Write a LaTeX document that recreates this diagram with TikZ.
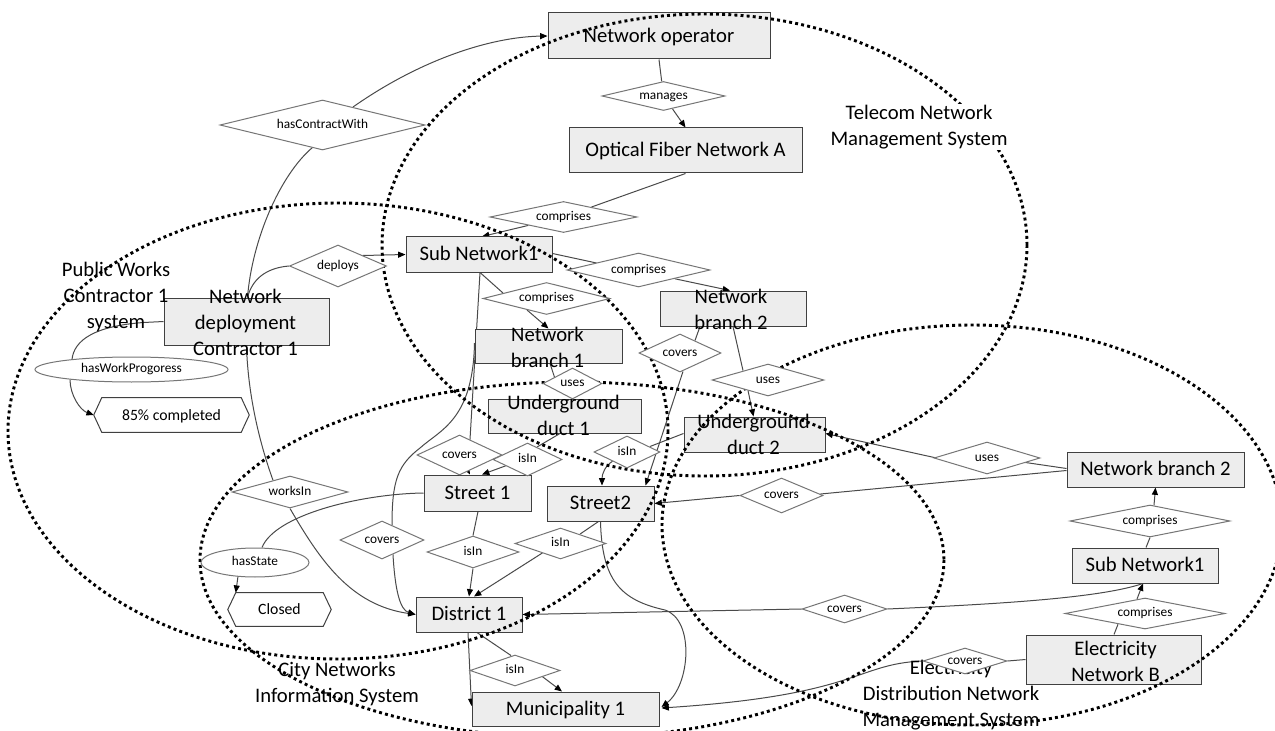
\documentclass[tikz,border=0pt]{standalone}
\usepackage{fontspec}
\setmainfont{Carlito}
\usetikzlibrary{shapes.geometric,arrows.meta,calc}
\definecolor{boxfill}{HTML}{EDEDED}
\definecolor{boxline}{HTML}{404040}
\definecolor{dialine}{HTML}{767676}
\definecolor{lncol}{HTML}{4A4A4A}
\pgfdeclarelayer{bg}
\pgfdeclarelayer{conn}
\pgfdeclarelayer{boxl}
\pgfdeclarelayer{zonel}
\pgfsetlayers{bg,conn,boxl,zonel,main}
\begin{document}
\begin{tikzpicture}[x=0.75pt,y=-0.75pt,
  box/.style={draw=boxline, fill=boxfill, line width=0.75pt, inner sep=0pt},
  sz/.style 2 args={minimum width=#1*0.75pt, minimum height=#2*0.75pt},
  one/.style={text height=12.5pt, text depth=3pt},
  dia/.style={diamond, shape aspect=3, draw=dialine, fill=white, line width=0.75pt, inner sep=0pt, font=\fontsize{10}{12}\selectfont, text height=6.6pt, text depth=2pt},
  ell/.style={ellipse, draw=dialine, fill=white, line width=0.75pt, inner sep=0pt, font=\fontsize{10}{12}\selectfont, text height=7pt, text depth=2pt},
  lbl/.style={font=\fontsize{15.5}{19.5}\selectfont, align=center, inner sep=0pt},
  hexn/.style={inner sep=0pt, font=\fontsize{11.8}{14}\selectfont, text height=10pt, text depth=2.5pt},
  hexl/.style={draw=boxline, fill=white, line width=0.75pt},
  ln/.style={draw=lncol, line width=0.75pt},
  ar/.style={ln, -{Triangle[length=5.5pt,width=4.5pt,color=black]}},
  zone/.style={draw=black, line width=2.2pt, dash pattern=on 2.2pt off 2.4pt},
]
\begin{pgfonlayer}{bg}
\fill[white] (0,0) rectangle (1275,731);
\end{pgfonlayer}
\useasboundingbox (0,0) rectangle (1275,731);

% ---------- boxes ----------
\begin{pgfonlayer}{boxl}
\node[box,sz={222}{46},lbl,one] (no) at (659,36) {Network operator};
\node[box,sz={233}{45},lbl,one] (ofn) at (685.5,150.5) {Optical Fiber Network A};
\node[box,sz={146}{35},lbl,one] (sn1) at (479,254.5) {Sub Network1};
\node[box,sz={165}{47}] (ndc) at (246.5,321.5) {};
\node[lbl] (ndct) at (245.5,322.5) {Network\\deployment\\Contractor 1};
\node[box,sz={146}{35}] (nb2) at (733,308.5) {};
\node[lbl] (nb2t) at (731,309) {Network\\branch 2};
\node[box,sz={147}{34}] (nb1) at (548.5,346) {};
\node[lbl] (nb1t) at (547.5,347) {Network\\branch 1};
\node[box,sz={153}{34}] (ud1) at (564.5,416) {};
\node[lbl] (ud1t) at (563.5,415.5) {Underground\\duct 1};
\node[box,sz={141}{35}] (ud2) at (754.5,434.5) {};
\node[lbl] (ud2t) at (753.5,434.5) {Underground\\duct 2};
\node[box,sz={107}{36},lbl,one] (st1) at (477.5,493) {Street 1};
\node[box,sz={107}{35},lbl,one] (st2) at (600.5,503.5) {Street2};
\node[box,sz={106}{35},lbl,one] (d1) at (469,614.5) {District 1};
\node[box,sz={187}{34},lbl,one] (m1) at (565.5,709) {Municipality 1};
\node[box,sz={177}{35},lbl,one] (nb2r) at (1155.5,469.5) {Network branch 2};
\node[box,sz={146}{35},lbl,one] (sn1r) at (1145,565.5) {Sub Network1};
\node[box,sz={175}{49}] (enb) at (1113.5,659.5) {};
\node[lbl] (enbt) at (1115.5,661) {Electricity\\Network B};
\end{pgfonlayer}

% ---------- zones ----------
\begin{pgfonlayer}{zonel}
\draw[zone] (704.5,245) ellipse [x radius=322.5, y radius=231];
\draw[zone] (338,431) ellipse [x radius=330, y radius=228];
\draw[zone] (572,560) ellipse [x radius=372, y radius=178];
\draw[zone] (972,525) ellipse [x radius=310, y radius=200];
\end{pgfonlayer}

% ---------- zone labels ----------
\node[lbl,fill=white,inner sep=1pt] (tel) at (919,127) {Telecom Network\\Management System};
\node[lbl] (pwc) at (116,297) {Public Works\\Contractor 1\\system};
\node[lbl] (city) at (337,684) {City Networks\\Information System};
\node[lbl] (elec) at (951,695) {Electricity\\Distribution Network\\Management System};

% ---------- relations ----------
\node[dia,sz={123}{29}] (man) at (663.5,96) {manages};
\node[dia,sz={205}{50}] (hcw) at (322.5,125) {hasContractWith};
\node[dia,sz={147}{31}] (cmp1) at (563.5,217) {comprises};
\node[dia,sz={97}{42}] (dep) at (338,266) {deploys};
\node[dia,sz={143}{34}] (cmp2) at (638.5,270) {comprises};
\node[dia,sz={127}{32}] (cmp3) at (546.5,298.5) {comprises};
\node[dia,sz={82}{38}] (cov1) at (680,353) {covers};
\node[dia,sz={59}{31}] (use1) at (572.5,383.5) {uses};
\node[dia,sz={112}{32}] (use2) at (768,380) {uses};
\node[dia,sz={85}{40}] (cov2) at (459.5,455) {covers};
\node[dia,sz={69}{33}] (isin1) at (527.5,459.5) {isIn};
\node[dia,sz={66}{32}] (isin2) at (627,452) {isIn};
\node[dia,sz={106}{32}] (use3) at (987,458) {uses};
\node[dia,sz={83}{35}] (cov3) at (781.5,495.5) {covers};
\node[dia,sz={116}{32}] (wks) at (290,492) {worksIn};
\node[dia,sz={84}{38}] (cov4) at (382,540) {covers};
\node[dia,sz={92}{32}] (isin3) at (473,552) {isIn};
\node[dia,sz={91}{31}] (isin4) at (560.5,543.5) {isIn};
\node[dia,sz={90}{31}] (isin5) at (515,670.5) {isIn};
\node[dia,sz={85}{28}] (cov5) at (844.5,609) {covers};
\node[dia,sz={84}{26}] (cov6) at (965,661) {covers};
\node[dia,sz={160}{32}] (cmp4) at (1150,521) {comprises};
\node[dia,sz={160}{31}] (cmp5) at (1145,613.5) {comprises};
\node[ell,sz={193}{25}] (hwp) at (131.5,369.5) {hasWorkProgoress};
\node[ell,sz={108}{29}] (hst) at (255,562.5) {hasState};

% ---------- values ----------
\node[hexn,sz={155}{34}] (p85) at (171.5,415) {85\% completed};
\node[hexn,sz={103}{33}] (cls) at (279.5,609.5) {Closed};
\begin{pgfonlayer}{boxl}
\draw[hexl] (p85.west) -- ($(p85.north west)+(8,0)$) -- ($(p85.north east)+(-8,0)$) -- (p85.east) -- ($(p85.south east)+(-8,0)$) -- ($(p85.south west)+(8,0)$) -- cycle;
\draw[hexl] (cls.west) -- ($(cls.north west)+(8,0)$) -- ($(cls.north east)+(-8,0)$) -- (cls.east) -- ($(cls.south east)+(-8,0)$) -- ($(cls.south west)+(8,0)$) -- cycle;
\end{pgfonlayer}

% ---------- connectors ----------
\begin{pgfonlayer}{conn}
\draw[ln] (no.south) -- (man);
\draw[ar] (man) -- (ofn.north);
\draw[ln] (ofn.south) -- (cmp1);
\draw[ar] (cmp1) -- ($(sn1.north)+(3,0)$);
\draw[ln] ($(ndc.north)+(1,0)$) .. controls (252,240) and (280,175) .. ($(hcw.south)+(-10,-3)$);
\draw[ar] ($(hcw.north)+(30.5,7.5)$) .. controls (420,60) and (490,37) .. (no.west);
\draw[ln] ($(ndc.north)+(1,0)$) .. controls (252,280) and (265,268) .. (dep.west);
\draw[ar] ($(dep.north)+(25,11)$) -- (sn1.west);
\draw[ln] (ndc.west) -- ++(-20,1) .. controls (95,326) and (74,340) .. ($(hwp)+(-59.5,-10)$);
\draw[ar] ($(hwp)+(-61.5,10)$) .. controls (70,395) and (80,410) .. (p85.west);
\draw[ln] (ndc.south) .. controls (248,400) and (262,450) .. ($(wks.north)+(-17,4.7)$);
\draw[ar] (wks.south) .. controls (320,560) and (350,605) .. (d1.west);
\draw[ln] (st1.west) .. controls (360,494) and (275,515) .. ($(hst.north)+(7,0)$);
\draw[ar] ($(hst)+(-17,13.8)$) -- ($(cls.north west)+(8,0)$);
\draw[ln] ($(sn1.south)+(1,0)$) -- ($(cmp3.north)+(-43.5,11)$);
\draw[ar] ($(cmp3.south)+(-19.5,-5)$) -- (nb1.north);
\draw[ln] ($(sn1.east)+(0,-1)$) -- ($(cmp2.west)+(30,-7)$);
\draw[ar] ($(cmp2.south)+(36.5,-8.7)$) -- ($(nb2.north)+(-3,0)$);
\draw[ln] ($(nb1.south)+(1.5,0)$) -- ($(use1.west)+(12,-6.3)$);
\draw[ln] ($(ud1.south)+(-4.5,0)$) -- ($(isin1.north)+(9.5,4.5)$);
\draw[ar] ($(isin1.west)+(14,6)$) -- ($(st1.north)+(4.5,0)$);
\draw[ln] ($(sn1.south)+(1,0)$) -- ($(cov2.north)+(10.5,5)$);
\draw[ar] (cov2) -- ($(st1.north)+(-7.5,0)$);
\draw[ln] ($(nb1.west)+(0,-3)$) .. controls (473,420) and (440,430) .. (420,448) .. controls (398,465) and (392,480) .. ($(cov4.north)+(10,4.5)$);
\draw[ar] ($(cov4.south)+(11,-5)$) .. controls (395,590) and (400,610) .. (d1.west);
\draw[ln] ($(st1.south)+(0.5,0)$) -- (isin3.north);
\draw[ar] (isin3.south) -- (d1.north);
\draw[ln] ($(st2.south)+(-2,0)$) -- ($(isin4.north)+(19.5,6.6)$);
\draw[ar] ($(isin4.west)+(28,9.4)$) -- ($(d1.north)+(5,0)$);
\draw[ln] ($(d1.south)+(8,0)$) -- ($(isin5.north)+(-4,1)$);
\draw[ar] ($(isin5.east)+(-18,6.2)$) -- ($(m1.north)+(-3.5,0)$);
\draw[ar] ($(d1.south)+(-1,0)$) -- ($(m1.west)+(0,-3)$);
\draw[ln] ($(ud2.west)+(0,-1)$) -- ($(isin2.north)+(23,11)$);
\draw[ar] ($(isin2.west)+(19,9.2)$) .. controls (605,466) and (602,474) .. ($(st2.north)+(1.5,0)$);
\draw[ln] ($(nb2.south)+(-33,0)$) -- ($(cov1.north)+(15,7)$);
\draw[ar] ($(cov1.south)+(3,-1)$) -- ($(st2.north east)+(-9,0)$);
\draw[ln] (nb2.south) -- ($(use2.north)+(-25,7)$);
\draw[ar] ($(use2.south)+(-20,-6)$) -- ($(ud2.north)+(-1,0)$);
\draw[ln] ($(nb2r.west)+(0,-1)$) -- ($(use3.east)+(-15,4.5)$);
\draw[ar] ($(use3.west)+(3,0)$) -- ($(ud2.east)+(0,-1)$);
\draw[ln] ($(nb2r.west)+(0,1)$) -- ($(cov3.east)+(-3,-1.5)$);
\draw[ar] (cov3.west) -- (st2.east);
\draw[ln] ($(sn1r.north)+(1,0)$) -- (cmp4.south);
\draw[ar] ($(cmp4.north)+(4,0.8)$) -- (nb2r.south);
\draw[ln] ($(enb.north)+(0.5,0)$) -- ($(cmp5.south)+(-27,-5.2)$);
\draw[ar] ($(cmp5.north)+(-8,1.5)$) -- ($(sn1r.south)+(-2,0)$);
\draw[ar] (cov5.west) -- (d1.east);
\draw[ln] (cov5.east) .. controls (1000,604) and (1100,598) .. ($(sn1r.south)+(-2,0)$);
\draw[ln] (enb.west) -- (cov6.east);
\draw[ar] (cov6.west) .. controls (855,664) and (860,695) .. ($(m1.east)+(2,-1)$);
\draw[ar] (st2.south) .. controls (602,580) and (620,600) .. (665,610) .. controls (695,620) and (690,685) .. ($(m1.east)+(2,-2)$);
\end{pgfonlayer}
\end{tikzpicture}
\end{document}
